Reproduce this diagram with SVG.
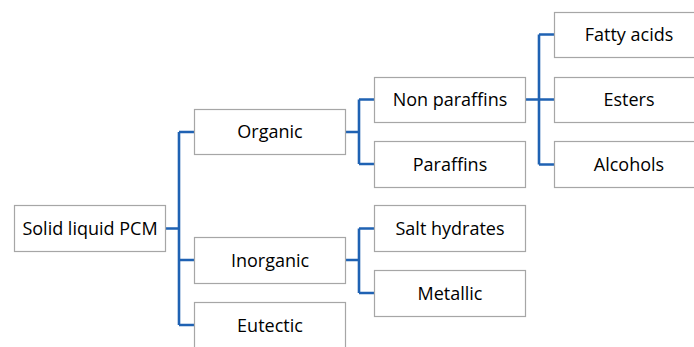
<svg xmlns="http://www.w3.org/2000/svg" width="694" height="347" viewBox="0 0 694 347">
<style>
.box{fill:#fff;stroke:#a6a6a6;stroke-width:1.2}
.t{font-family:"Open Sans","Noto Sans",sans-serif;font-size:18px;fill:#000;text-anchor:middle}
.c{fill:none;stroke:#1f62b3;stroke-width:2.6;stroke-linejoin:miter}
</style>
<rect width="694" height="347" fill="#fff"/>
<g id="connectors">
<path class="c" d="M165 228.5H179M179 132V325M179 132H194M179 260H194M179 325H194"/>
<path class="c" d="M345 132H359M359 99.5V164M359 99.5H374M359 164H374"/>
<path class="c" d="M345 260H359M359 228.5V293M359 228.5H374M359 293H374"/>
<path class="c" d="M525 99.5H539M539 34.5V164.5M539 34.5H554M539 99.5H554M539 164.5H554"/>
</g>
<g id="root"><rect class="box" x="14.5" y="205.5" width="151" height="46"/><text class="t" x="90" y="235">Solid liquid PCM</text></g>
<g id="organic"><rect class="box" x="194.5" y="109.5" width="151" height="45"/><text class="t" x="270" y="138">Organic</text></g>
<g id="inorganic"><rect class="box" x="194.5" y="237.5" width="151" height="46"/><text class="t" x="270" y="266.5">Inorganic</text></g>
<g id="eutectic"><rect class="box" x="194.5" y="302.5" width="151" height="46"/><text class="t" x="270" y="331.5">Eutectic</text></g>
<g id="nonparaffins"><rect class="box" x="374.5" y="77.5" width="151" height="45"/><text class="t" x="450" y="106">Non paraffins</text></g>
<g id="paraffins"><rect class="box" x="374.5" y="141.5" width="151" height="46"/><text class="t" x="450" y="170.5">Paraffins</text></g>
<g id="salthydrates"><rect class="box" x="374.5" y="205.5" width="151" height="46"/><text class="t" x="450" y="235">Salt hydrates</text></g>
<g id="metallic"><rect class="box" x="374.5" y="270.5" width="151" height="46"/><text class="t" x="450" y="299.5">Metallic</text></g>
<g id="fattyacids"><rect class="box" x="554.5" y="12.5" width="151" height="45"/><text class="t" x="629" y="41">Fatty acids</text></g>
<g id="esters"><rect class="box" x="554.5" y="77.5" width="151" height="45"/><text class="t" x="629" y="106">Esters</text></g>
<g id="alcohols"><rect class="box" x="554.5" y="141.5" width="151" height="46"/><text class="t" x="629" y="170.5">Alcohols</text></g>
</svg>
